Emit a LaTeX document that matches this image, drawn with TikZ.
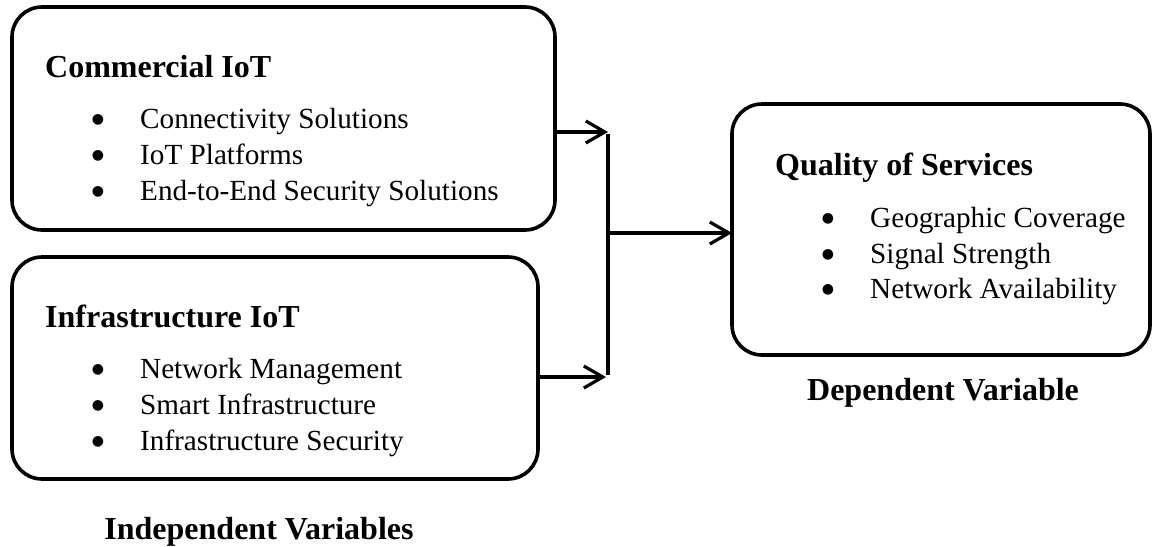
\documentclass[tikz,border=0pt]{standalone}
\usepackage{fontspec}
\setmainfont{Liberation Serif}
\newfontfamily\dejavu{DejaVu Sans}
\usetikzlibrary{arrows.meta}
\begin{document}
\begin{tikzpicture}[x=1pt,y=-1pt,
  box/.style={draw=black,line width=3.6pt,rounded corners=30pt,inner sep=0pt,outer sep=0pt},
  ttl/.style={anchor=base west,inner sep=0pt,font=\fontsize{32}{38}\selectfont\bfseries},
  itm/.style={anchor=base west,inner sep=0pt,font=\fontsize{29.2}{36}\selectfont},
  bul/.style={anchor=center,inner sep=0pt,font=\dejavu\fontsize{14}{14}\selectfont},
  captxt/.style={anchor=base,inner sep=0pt,font=\fontsize{32}{38}\selectfont\bfseries},
  conn/.style={draw=black,line width=3.2pt},
  arr/.style={conn,-{Straight Barb[length=19pt,width=22pt,line width=3.2pt]}}]
\useasboundingbox (0,0) rectangle (1153,546);
% boxes
\node[box,minimum width=543pt,minimum height=223pt] (b1) at (283.5,118.5) {};
\node[box,minimum width=526pt,minimum height=222pt] (b2) at (275,368) {};
\node[box,minimum width=418pt,minimum height=251pt] (b3) at (941,229.5) {};
% box 1 text
\node[ttl] (t1) at (45,77) {Commercial IoT};
\node[bul] (d11) at (98,120) {●};
\node[bul] (d12) at (98,156) {●};
\node[bul] (d13) at (98,192) {●};
\node[itm] (i11) at (140,128) {Connectivity Solutions};
\node[itm] (i12) at (140,164) {IoT Platforms};
\node[itm] (i13) at (140,200) {End-to-End Security Solutions};
% box 2 text
\node[ttl] (t2) at (45,327) {Infrastructure IoT};
\node[bul] (d21) at (98,370) {●};
\node[bul] (d22) at (98,406) {●};
\node[bul] (d23) at (98,442) {●};
\node[itm] (i21) at (140,378) {Network Management};
\node[itm] (i22) at (140,414) {Smart Infrastructure};
\node[itm] (i23) at (140,450) {Infrastructure Security};
% box 3 text
\node[ttl] (t3) at (775,175) {Quality of Services};
\node[bul] (d31) at (828,219) {●};
\node[bul] (d32) at (828,255) {●};
\node[bul] (d33) at (828,290) {●};
\node[itm] (i31) at (870,227) {Geographic Coverage};
\node[itm] (i32) at (870,263) {Signal Strength};
\node[itm] (i33) at (870,298) {Network Availability};
% captions
\node[captxt] (c1) at (259,539) {Independent Variables};
\node[captxt] (c2) at (943,400) {Dependent Variable};
% connectors
\coordinate (jt) at (608,132);
\coordinate (jm) at (608,233);
\coordinate (jb) at (608,377);
\draw[arr] (b1.east |- jt) -- (jt);
\draw[arr] (b2.east |- jb) -- ([xshift=-2pt]jb);
\draw[conn] ([yshift=-1.6pt]jt) -- ([yshift=1.6pt]jb);
\draw[arr] (jm) -- (b3.west |- jm);
\end{tikzpicture}
\end{document}
